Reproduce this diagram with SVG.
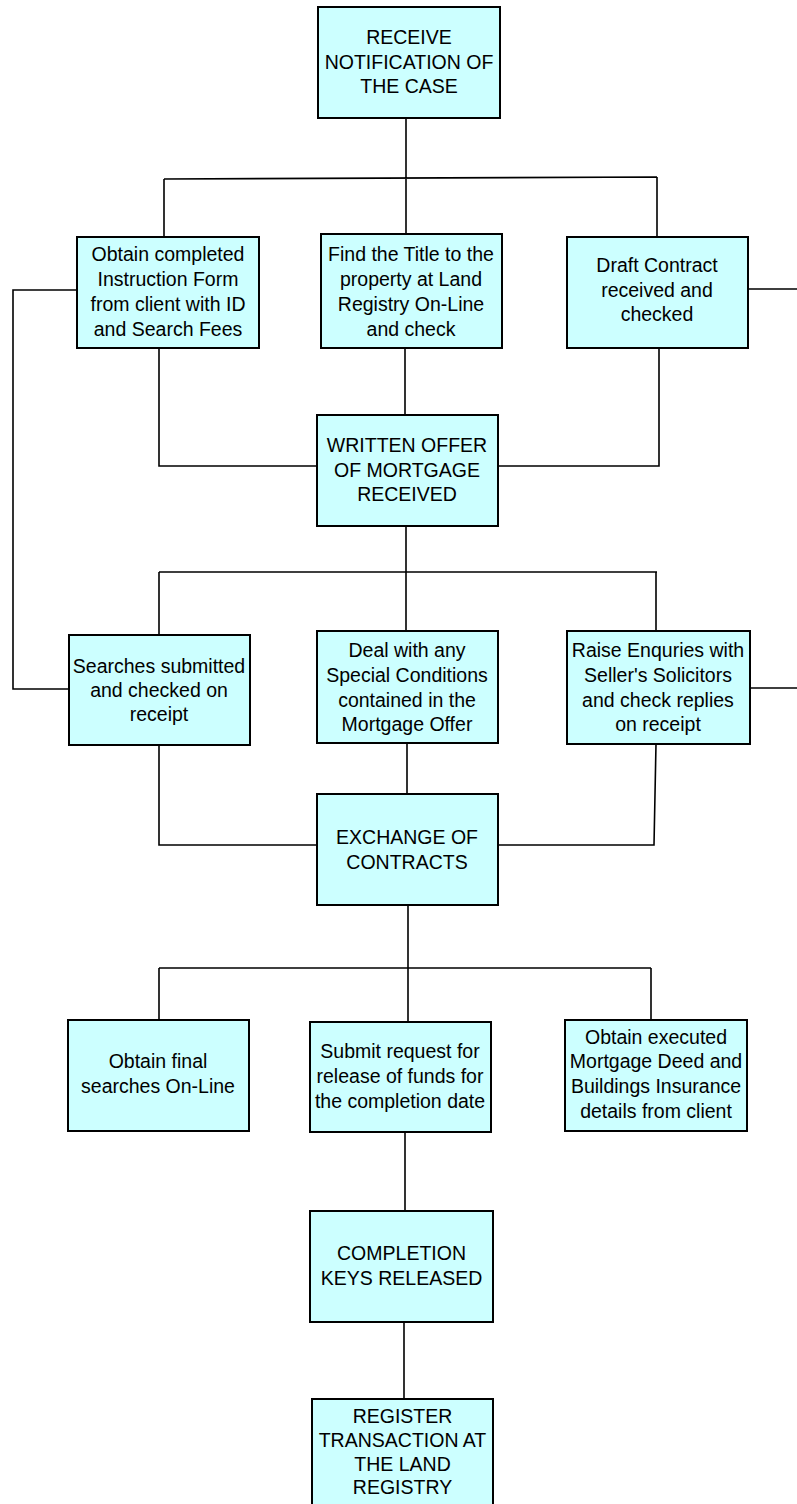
<svg xmlns="http://www.w3.org/2000/svg" width="797" height="1504" viewBox="0 0 797 1504">
<style>
.box{fill:#CCFFFF;stroke:#000;stroke-width:2}
.t{font-family:"Liberation Sans",Arial,sans-serif;font-size:19.5px;fill:#000;text-anchor:middle}
.c{fill:none;stroke:#000;stroke-width:1.6}
</style>
<rect width="797" height="1504" fill="#fff"/>
<g id="connectors">
<path class="c" d="M406 118V178M164 179L657 177M164 179V237M406 178V234M657 177V237"/>
<path class="c" d="M77 290H13V689H69M748 289H797M750 688H797"/>
<path class="c" d="M159 348V466H317M405 348V415M659 348V466H498"/>
<path class="c" d="M406 526V572M159 572H657M159 572V635M406 572V631M656 572V631"/>
<path class="c" d="M159 745V845H317M407 743V794M656 744L654 845H498"/>
<path class="c" d="M408 905V968M159 968H651M159 968V1020M408 968V1022M651 968V1020"/>
<path class="c" d="M405 1132V1211M404 1322V1399"/>
</g>
<g id="n1"><rect class="box" x="318" y="7" width="182" height="111"/>
<text class="t" x="409" y="44">RECEIVE</text><text class="t" x="409" y="68.5">NOTIFICATION OF</text><text class="t" x="409" y="93">THE CASE</text></g>
<g id="n2"><rect class="box" x="77" y="237" width="182" height="111"/>
<text class="t" x="168" y="261">Obtain completed</text><text class="t" x="168" y="286">Instruction Form</text><text class="t" x="168" y="311">from client with ID</text><text class="t" x="168" y="336">and Search Fees</text></g>
<g id="n3"><rect class="box" x="321" y="234" width="181" height="114"/>
<text class="t" x="411" y="261">Find the Title to the</text><text class="t" x="411" y="286">property at Land</text><text class="t" x="411" y="311">Registry On-Line</text><text class="t" x="411" y="336">and check</text></g>
<g id="n4"><rect class="box" x="567" y="237" width="181" height="111"/>
<text class="t" x="657" y="272">Draft Contract</text><text class="t" x="657" y="296.5">received and</text><text class="t" x="657" y="321">checked</text></g>
<g id="n5"><rect class="box" x="317" y="415" width="181" height="111"/>
<text class="t" x="407" y="452">WRITTEN OFFER</text><text class="t" x="407" y="477">OF MORTGAGE</text><text class="t" x="407" y="501">RECEIVED</text></g>
<g id="n6"><rect class="box" x="69" y="635" width="181" height="110"/>
<text class="t" x="159" y="673">Searches submitted</text><text class="t" x="159" y="697">and checked on</text><text class="t" x="159" y="721">receipt</text></g>
<g id="n7"><rect class="box" x="317" y="631" width="181" height="112"/>
<text class="t" x="407" y="657">Deal with any</text><text class="t" x="407" y="682">Special Conditions</text><text class="t" x="407" y="706.5">contained in the</text><text class="t" x="407" y="731">Mortgage Offer</text></g>
<g id="n8"><rect class="box" x="567" y="631" width="183" height="113"/>
<text class="t" x="658" y="657">Raise Enquries with</text><text class="t" x="658" y="682">Seller's Solicitors</text><text class="t" x="658" y="706.5">and check replies</text><text class="t" x="658" y="731">on receipt</text></g>
<g id="n9"><rect class="box" x="317" y="794" width="181" height="111"/>
<text class="t" x="407" y="844">EXCHANGE OF</text><text class="t" x="407" y="868.5">CONTRACTS</text></g>
<g id="n10"><rect class="box" x="68" y="1020" width="181" height="111"/>
<text class="t" x="158" y="1068">Obtain final</text><text class="t" x="158" y="1093">searches On-Line</text></g>
<g id="n11"><rect class="box" x="310" y="1022" width="181" height="110"/>
<text class="t" x="400" y="1058">Submit request for</text><text class="t" x="400" y="1083">release of funds for</text><text class="t" x="400" y="1107.5">the completion date</text></g>
<g id="n12"><rect class="box" x="565" y="1020" width="182" height="111"/>
<text class="t" x="656" y="1043.5">Obtain executed</text><text class="t" x="656" y="1068">Mortgage Deed and</text><text class="t" x="656" y="1093">Buildings Insurance</text><text class="t" x="656" y="1117.5">details from client</text></g>
<g id="n13"><rect class="box" x="310" y="1211" width="183" height="111"/>
<text class="t" x="401.5" y="1260">COMPLETION</text><text class="t" x="401.5" y="1285">KEYS RELEASED</text></g>
<g id="n14"><rect class="box" x="312" y="1399" width="181" height="115"/>
<text class="t" x="402.5" y="1423">REGISTER</text><text class="t" x="402.5" y="1447">TRANSACTION AT</text><text class="t" x="402.5" y="1471">THE LAND</text><text class="t" x="402.5" y="1494">REGISTRY</text></g>
</svg>
